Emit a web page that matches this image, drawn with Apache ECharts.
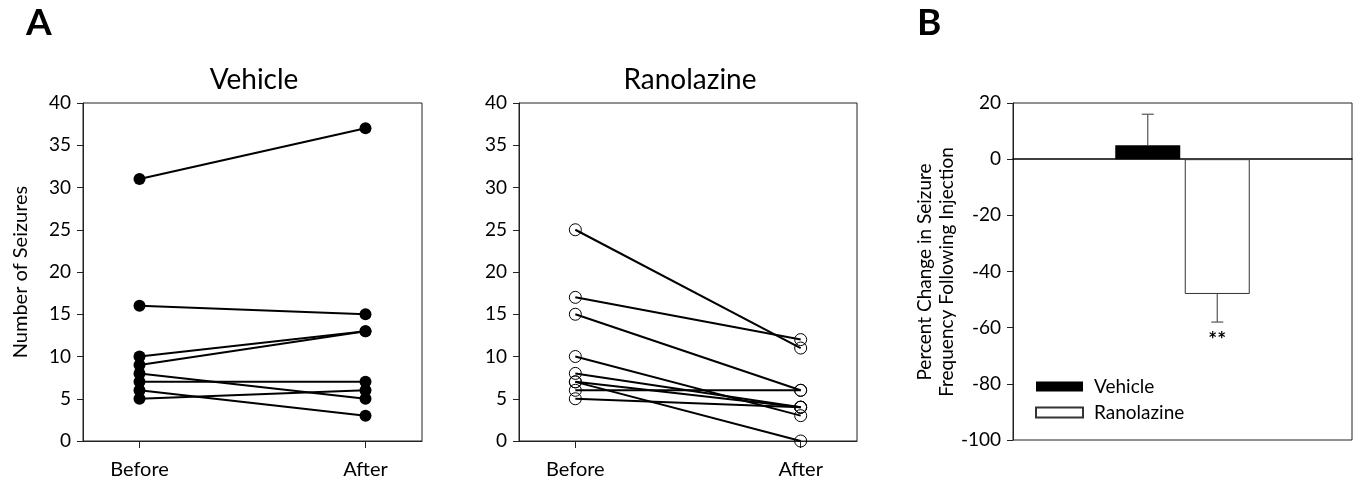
<!DOCTYPE html>
<html>
<head>
<meta charset="utf-8">
<script src="https://cdn.jsdelivr.net/npm/echarts@6/dist/echarts.min.js"></script>
<style>
  html, body { margin: 0; padding: 0; background: #fff; }
  #chart { width: 1358px; height: 489px; }
</style>
</head>
<body>
<div id="chart"></div>
<script>
// panel A: seizures per animal, before / after injection
const timepoints = ['Before', 'After']
const vehicleBefore = [31, 16, 10, 9, 8, 7, 6, 5]
const vehicleAfter = [37, 15, 13, 13, 5, 7, 3, 6]
const ranolazineBefore = [25, 17, 15, 10, 8, 7, 7, 6, 5]
const ranolazineAfter = [11, 12, 6, 3, 4, 4, 0, 6, 4]
const countMin = 0
const countMax = 40
const countStep = 5

// panel B: percent change (mean, error)
const groups = ['Vehicle', 'Ranolazine']
const pctChange = [5, -48]
const pctError = [11, 10]
const pctSignif = ['', '**']
const pctMin = -100
const pctMax = 20
const pctStep = 20

const FONT = 'Lato'
const TEXT = '#000'
const BAR_W = 65
const BAR_GAP = 4.5

const chart = echarts.init(document.getElementById('chart'))

const countY = (gridIndex, withName) => ({
  type: 'value',
  gridIndex,
  min: countMin,
  max: countMax,
  interval: countStep,
  name: withName ? 'Number of Seizures' : '',
  nameLocation: 'middle',
  nameGap: 52,
  nameTextStyle: { fontFamily: FONT, fontSize: 20, color: TEXT },
  axisLine: { show: true, lineStyle: { color: '#222', width: 1 } },
  axisTick: { show: true, length: 6, lineStyle: { color: '#222' } },
  axisLabel: { fontFamily: FONT, fontSize: 19, color: TEXT, margin: 12 },
  splitLine: { show: false }
})

const timeX = gridIndex => ({
  type: 'value',
  gridIndex,
  min: 0.75,
  max: 2.25,
  axisLine: { show: true, onZero: false, lineStyle: { color: '#222', width: 1 } },
  axisTick: { show: true, length: 7, customValues: [1, 2], lineStyle: { color: '#222' } },
  axisLabel: {
    customValues: [1, 2],
    formatter: v => timepoints[Math.round(v) - 1],
    fontFamily: FONT, fontSize: 20, color: TEXT, margin: 19
  },
  splitLine: { show: false }
})

const pairSeries = (before, after, gridIndex, hollow) => before.map((b, i) => ({
  type: 'line',
  xAxisIndex: gridIndex,
  yAxisIndex: gridIndex,
  data: [[1, b], [2, after[i]]],
  symbol: 'circle',
  symbolSize: hollow ? 12 : 12,
  showSymbol: true,
  clip: false,
  silent: true,
  lineStyle: { color: '#000', width: 2 },
  itemStyle: hollow
    ? { color: 'rgba(0,0,0,0)', borderColor: '#000', borderWidth: 1 }
    : { color: '#000', borderWidth: 0 },
  z: 3
}))

const barSeries = groups.map((g, i) => ({
  name: g,
  type: 'bar',
  xAxisIndex: 2,
  yAxisIndex: 2,
  data: [pctChange[i]],
  barWidth: BAR_W,
  barGap: (BAR_GAP / BAR_W * 100) + '%',
  itemStyle: i === 0
    ? { color: '#000', borderColor: '#000', borderWidth: 0 }
    : { color: '#fff', borderColor: '#333', borderWidth: 1 },
  z: 2
}))

const errorSeries = {
  type: 'custom',
  xAxisIndex: 2,
  yAxisIndex: 2,
  silent: true,
  data: pctChange.map((v, i) => [0, v, pctError[i], i]),
  renderItem: (params, api) => {
    const mean = api.value(1)
    const err = api.value(2)
    const idx = api.value(3)
    const dir = mean >= 0 ? 1 : -1
    const off = (idx === 0 ? -1 : 1) * (BAR_W + BAR_GAP) / 2
    const p0 = api.coord([0, mean])
    const p1 = api.coord([0, mean + dir * err])
    const x = p0[0] + off
    const style = { stroke: '#555', lineWidth: 1.2 }
    const children = [
      { type: 'line', shape: { x1: x, y1: p0[1], x2: x, y2: p1[1] }, style },
      { type: 'line', shape: { x1: x - 6, y1: p1[1], x2: x + 6, y2: p1[1] }, style }
    ]
    if (pctSignif[idx]) {
      children.push({
        type: 'text',
        x: x,
        y: p1[1] + 8,
        style: {
          text: pctSignif[idx], fontFamily: FONT, fontSize: 21, fontWeight: 'bold',
          fill: TEXT, align: 'center', verticalAlign: 'top'
        }
      })
    }
    return { type: 'group', children }
  },
  z: 4
}

chart.setOption({
  animation: false,
  backgroundColor: '#fff',
  grid: [
    { left: 83, top: 103, width: 339, height: 338, show: true, borderColor: '#222', borderWidth: 1, containLabel: false },
    { left: 519, top: 103, width: 338, height: 338, show: true, borderColor: '#222', borderWidth: 1, containLabel: false },
    { left: 1013, top: 103, width: 339, height: 337, show: true, borderColor: '#222', borderWidth: 1, containLabel: false }
  ],
  xAxis: [
    timeX(0),
    timeX(1),
    {
      type: 'category',
      gridIndex: 2,
      data: [''],
      axisLine: { show: true, onZero: true, lineStyle: { color: '#000', width: 1.5 } },
      axisTick: { show: false },
      axisLabel: { show: false },
      splitLine: { show: false }
    }
  ],
  yAxis: [
    countY(0, true),
    countY(1, false),
    {
      type: 'value',
      gridIndex: 2,
      min: pctMin,
      max: pctMax,
      interval: pctStep,
      axisLine: { show: true, lineStyle: { color: '#222', width: 1 } },
      axisTick: { show: true, length: 6, lineStyle: { color: '#222' } },
      axisLabel: { fontFamily: FONT, fontSize: 19, color: TEXT, margin: 12 },
      splitLine: { show: false }
    }
  ],
  legend: {
    data: groups,
    orient: 'vertical',
    left: 1030,
    top: 372,
    itemWidth: 47,
    itemHeight: 10,
    itemGap: 7,
    icon: 'rect',
    selectedMode: false,
    textStyle: { fontFamily: FONT, fontSize: 19, color: TEXT, padding: [0, 0, 0, 6] }
  },
  graphic: [
    { type: 'text', x: 26, y: 5, style: { text: 'A', fontFamily: FONT, fontSize: 37, fontWeight: 'bold', fill: TEXT } },
    { type: 'text', x: 917, y: 5, style: { text: 'B', fontFamily: FONT, fontSize: 37, fontWeight: 'bold', fill: TEXT } },
    { type: 'text', x: 254, y: 80, style: { text: 'Vehicle', fontFamily: FONT, fontSize: 28, fill: TEXT, align: 'center', verticalAlign: 'middle' } },
    { type: 'text', x: 690, y: 80, style: { text: 'Ranolazine', fontFamily: FONT, fontSize: 28, fill: TEXT, align: 'center', verticalAlign: 'middle' } },
    {
      type: 'text', x: 936, y: 272, rotation: Math.PI / 2,
      style: {
        text: 'Percent Change in Seizure\nFrequency Following Injection',
        fontFamily: FONT, fontSize: 19, lineHeight: 22, fill: TEXT,
        align: 'center', verticalAlign: 'middle'
      }
    }
  ],
  series: [
    ...pairSeries(vehicleBefore, vehicleAfter, 0, false),
    ...pairSeries(ranolazineBefore, ranolazineAfter, 1, true),
    ...barSeries,
    errorSeries
  ]
})
</script>
</body>
</html>
